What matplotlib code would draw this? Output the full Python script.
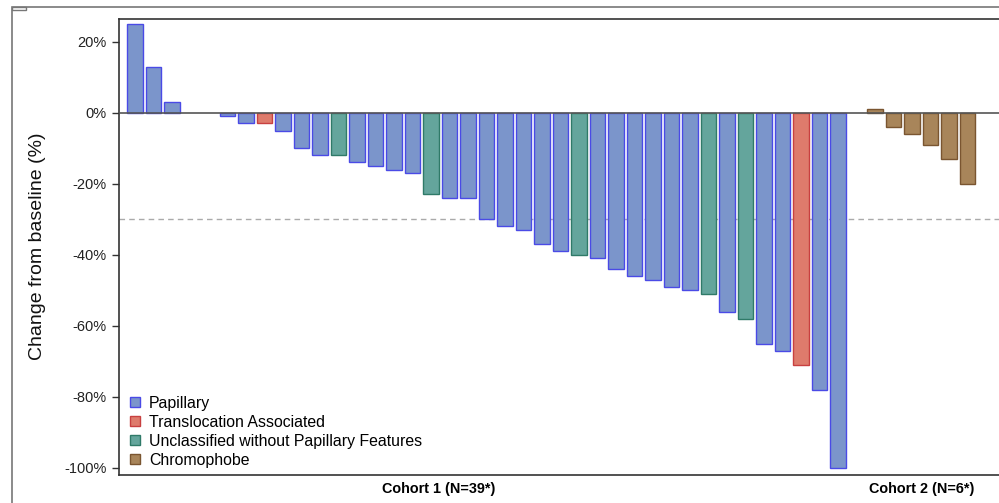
import numpy as np
import matplotlib
matplotlib.use("Agg")
import matplotlib.pyplot as plt
from matplotlib.patches import Patch, Rectangle

plt.rcParams['font.family'] = ['Liberation Sans', 'DejaVu Sans']

# best change from baseline (%), one entry per patient slot; None = no bar
cohort1_change = [25, 13, 3, None, None, -1, -3, -3, -5, -10, -12, -12, -14, -15, -16,
                  -17, -23, -24, -24, -30, -32, -33, -37, -39, -40, -41, -44, -46, -47,
                  -49, -50, -51, -56, -58, -65, -67, -71, -78, -100]
cohort1_type = ['P', 'P', 'P', None, None, 'P', 'P', 'T', 'P', 'P', 'P', 'U', 'P', 'P', 'P',
                'P', 'U', 'P', 'P', 'P', 'P', 'P', 'P', 'P', 'U', 'P', 'P', 'P', 'P',
                'P', 'P', 'U', 'P', 'U', 'P', 'P', 'T', 'P', 'P']
cohort2_change = [1, -4, -6, -9, -13, -20]
cohort2_type = ['C'] * 6

type_names = {'P': 'Papillary', 'T': 'Translocation Associated',
              'U': 'Unclassified without Papillary Features', 'C': 'Chromophobe'}
fills = {'P': '#7b95cb', 'T': '#de7b6c', 'U': '#64a59c', 'C': '#a8855a'}
edges = {'P': '#4a4ae6', 'T': '#c84040', 'U': '#2f7a68', 'C': '#7a5530'}

cohort_labels = ['Cohort 1 (N=39*)', 'Cohort 2 (N=6*)']

fig = plt.figure(figsize=(9.99, 5.03), dpi=100)
W, H = 999, 503
ax = fig.add_axes([119 / W, 1 - 474.5 / H, (1010 - 119) / W, (474.5 - 18.7) / H])

x1 = np.arange(len(cohort1_change))
x2 = np.arange(len(cohort2_change)) + len(cohort1_change) + 1
for xs, vals, types in [(x1, cohort1_change, cohort1_type), (x2, cohort2_change, cohort2_type)]:
    for x, v, t in zip(xs, vals, types):
        if v is None:
            continue
        ax.bar(x, v, width=0.86, color=fills[t], edgecolor=edges[t], linewidth=1.0, zorder=2)

pitch = 18.5
left = -16 / pitch
ax.set_xlim(left, left + (1010 - 119) / pitch)
ax.set_ylim(-101.9, 26.5)

ax.axhline(0, color='#555555', lw=1.2, zorder=3)
ax.axhline(-30, color='#aaaaaa', lw=1.0, ls=(0, (4, 3)), zorder=1)

ax.set_yticks([20, 0, -20, -40, -60, -80, -100])
ax.set_yticklabels(['20%', '0%', '-20%', '-40%', '-60%', '-80%', '-100%'], fontsize=10.5, color='#222222')
ax.tick_params(axis='y', direction='out', length=5, width=1, color='#333333', pad=4)
ax.set_xticks([])
for s in ax.spines.values():
    s.set_color('#333333')
    s.set_linewidth(1.2)

ax.set_ylabel('Change from baseline (%)', fontsize=14, color='#111111')
ax.yaxis.set_label_coords(-(119 - 46) / (1010 - 119), 0.5)

ax.text(16.4, -105.9, cohort_labels[0], ha='center', va='center', fontsize=10.4, fontweight='bold')
ax.text(42.5, -105.9, cohort_labels[1], ha='center', va='center', fontsize=10.4, fontweight='bold')

handles = [Patch(facecolor=fills[k], edgecolor=edges[k], label=type_names[k]) for k in 'PTUC']
ax.legend(handles=handles, loc='lower left', bbox_to_anchor=(0.0, -0.01), frameon=False,
          fontsize=11.4, handlelength=0.6, handleheight=0.6, handletextpad=0.6,
          labelspacing=0.26, borderaxespad=0.3)

# outer panel frame and small tab
fig.patches.append(Rectangle((12 / W, -0.1), 1.1, 1 - 7 / H + 0.1, transform=fig.transFigure,
                             fill=False, edgecolor='#777777', lw=1.2))
fig.patches.append(Rectangle((12 / W, 1 - 10 / H), 14 / W, 3 / H, transform=fig.transFigure,
                             fill=False, edgecolor='#777777', lw=1.0))

fig.savefig('out.png', dpi=100)
